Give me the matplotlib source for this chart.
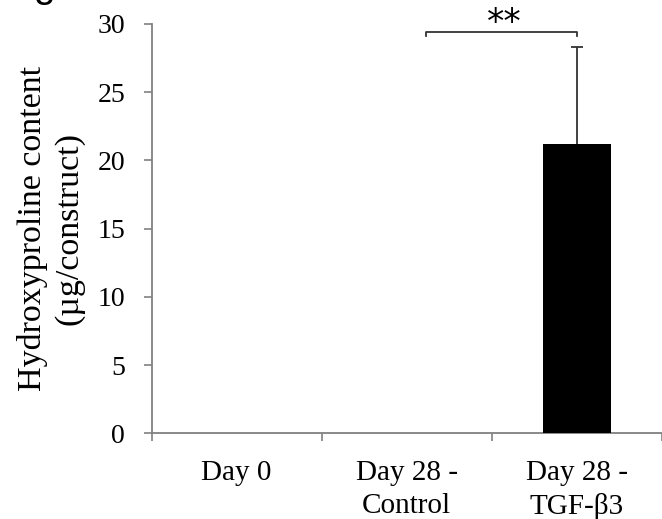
import matplotlib
matplotlib.use("Agg")
import matplotlib.pyplot as plt
import numpy as np

categories = ["Day 0", "Day 28 -\nControl", "Day 28 -\nTGF-β3"]
values = [0.0, 0.0, 21.2]
errors = [0.0, 0.0, 7.1]
y_ticks = [0, 5, 10, 15, 20, 25, 30]
sig_label = "**"

plt.rcParams['font.family'] = ['Liberation Serif', 'DejaVu Serif']

fig = plt.figure(figsize=(6.62, 5.19), dpi=100)
ax = fig.add_axes([0.229, 0.165, 0.771, 0.789])

x = np.arange(len(categories))
ax.bar(x, values, width=0.4, color='black', zorder=3)
mask = np.array(errors) > 0
ax.errorbar(x[mask], np.array(values)[mask], yerr=np.array(errors)[mask],
            fmt='none', ecolor='#333333', elinewidth=1.3, capsize=4, capthick=1.3, zorder=2)

ax.set_xlim(-0.5, 2.451)
ax.set_ylim(0, 30)
ax.set_yticks(y_ticks)
ax.set_yticklabels([str(t) for t in y_ticks], fontsize=20)

ax.set_xticks([-0.5, 0.5, 1.5, 2.5])
ax.set_xticklabels([])
ax.set_xticks(x, minor=True)
ax.set_xticklabels(categories, minor=True, fontsize=21, linespacing=1.35)
ax.tick_params(axis='x', which='minor', length=0, pad=19)
ax.tick_params(axis='x', which='major', length=6, width=1.2, color='#808080', direction='out')
ax.tick_params(axis='y', which='major', length=6, width=1.2, color='#808080', direction='out', pad=13)

for s in ['top', 'right']:
    ax.spines[s].set_visible(False)
for s in ['left', 'bottom']:
    ax.spines[s].set_color('#808080')
    ax.spines[s].set_linewidth(1.3)

ax.set_ylabel("Hydroxyproline content\n(µg/construct)", fontsize=24.5, linespacing=1.25, labelpad=9)

# significance bracket
bx0, bx1, by, leg = 1.11, 2.0, 29.44, 0.3
ax.plot([bx0, bx0, bx1, bx1], [by - leg, by, by, by - leg], color='#333333', lw=1.3,
        clip_on=False, zorder=4)
ax.text((bx0 + bx1) / 2 + 0.02, 29.3, sig_label, ha='center', va='baseline', fontsize=25,
        family=['DejaVu Sans'], clip_on=False)

# partial panel label at top edge
fig.text(0.05, 1.006, "g", fontsize=28, family=['Liberation Sans'], ha='left', va='baseline')

fig.savefig("out.png", dpi=100)
